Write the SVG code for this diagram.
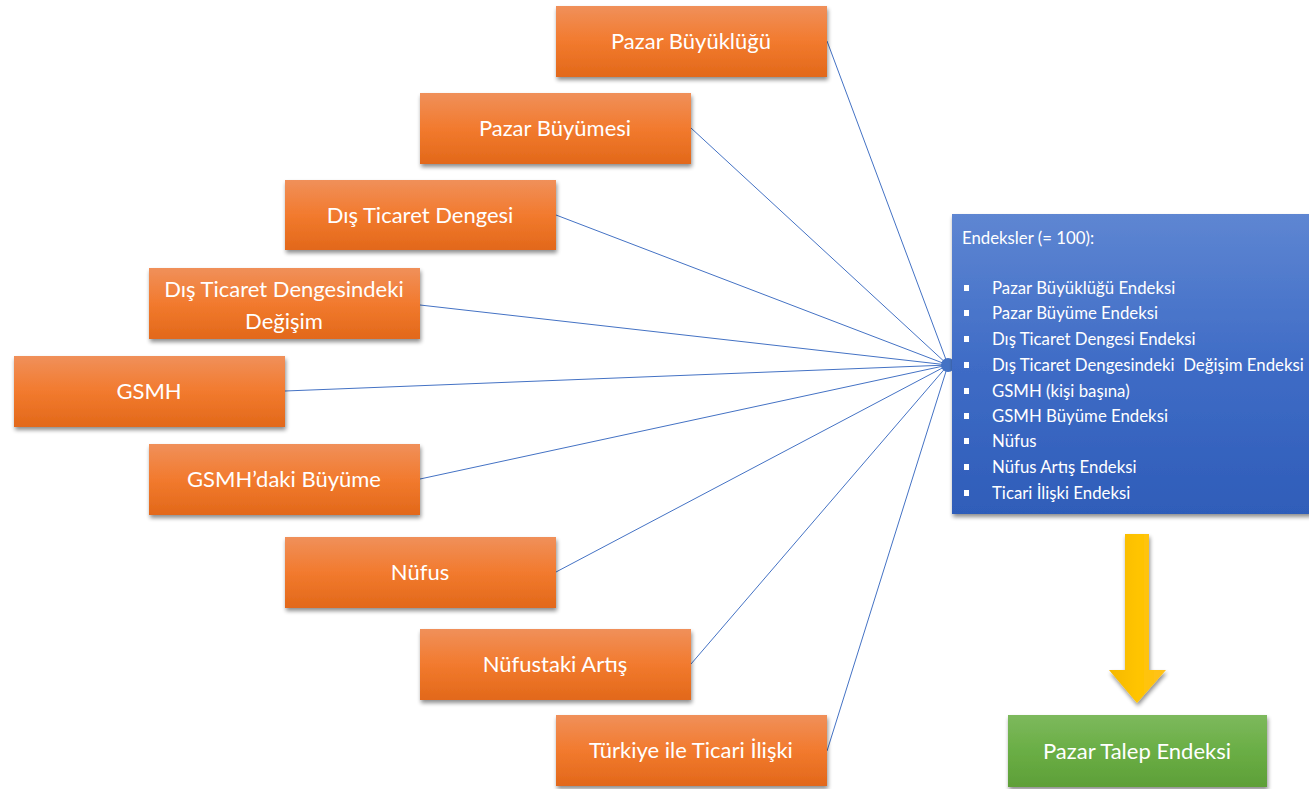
<svg xmlns="http://www.w3.org/2000/svg" width="1309" height="789" viewBox="0 0 1309 789">
<defs>
<linearGradient id="gOr" x1="0" y1="0" x2="0" y2="1"><stop offset="0" stop-color="#F0905A"/><stop offset="0.5" stop-color="#F27A2E"/><stop offset="1" stop-color="#E2681A"/></linearGradient>
<linearGradient id="gBl" x1="0" y1="0" x2="0" y2="1"><stop offset="0" stop-color="#5E86D2"/><stop offset="0.5" stop-color="#3F6CC6"/><stop offset="1" stop-color="#2F5DB9"/></linearGradient>
<linearGradient id="gGr" x1="0" y1="0" x2="0" y2="1"><stop offset="0" stop-color="#7DB95D"/><stop offset="0.5" stop-color="#6AAE45"/><stop offset="1" stop-color="#5E9F38"/></linearGradient>
<linearGradient id="gYe" x1="0" y1="0" x2="1" y2="0"><stop offset="0" stop-color="#F5B800"/><stop offset="0.5" stop-color="#FFC400"/><stop offset="1" stop-color="#FFC21E"/></linearGradient>
<filter id="sh" x="-10%" y="-10%" width="120%" height="130%"><feGaussianBlur in="SourceAlpha" stdDeviation="2"/><feOffset dx="1" dy="3"/><feComponentTransfer><feFuncA type="linear" slope="0.45"/></feComponentTransfer><feMerge><feMergeNode/><feMergeNode in="SourceGraphic"/></feMerge></filter>
</defs>
<style>
.or{fill:url(#gOr);filter:url(#sh)}
.t{font-family:Lato,"Open Sans",sans-serif;font-size:22px;fill:#fff;text-anchor:middle}
.b{font-family:Lato,"Open Sans",sans-serif;font-size:16.8px;fill:#fff}
.c line{stroke:#4472C4;stroke-width:1}
</style>
<rect width="1309" height="789" fill="#fff"/>
<g class="c" id="connectors">
<line x1="827" y1="41" x2="948" y2="365"/>
<line x1="691" y1="128" x2="948" y2="365"/>
<line x1="556" y1="215" x2="948" y2="365"/>
<line x1="420" y1="305" x2="948" y2="365"/>
<line x1="285" y1="391" x2="948" y2="365"/>
<line x1="420" y1="479" x2="948" y2="365"/>
<line x1="556" y1="572" x2="948" y2="365"/>
<line x1="691" y1="664" x2="948" y2="365"/>
<line x1="827" y1="751" x2="948" y2="365"/>
<circle cx="948" cy="365" r="7" fill="#4472C4"/>
</g>
<g id="n1"><rect class="or" x="556" y="6" width="271" height="71"/><text class="t" x="691" y="49">Pazar Büyüklüğü</text></g>
<g id="n2"><rect class="or" x="420" y="93" width="271" height="71"/><text class="t" x="555" y="136">Pazar Büyümesi</text></g>
<g id="n3"><rect class="or" x="285" y="180" width="271" height="70"/><text class="t" x="420" y="223">Dış Ticaret Dengesi</text></g>
<g id="n4"><rect class="or" x="149" y="268" width="271" height="71"/><text class="t" x="284" y="297">Dış Ticaret Dengesindeki</text><text class="t" x="284" y="329">Değişim</text></g>
<g id="n5"><rect class="or" x="14" y="356" width="271" height="71"/><text class="t" x="149" y="399">GSMH</text></g>
<g id="n6"><rect class="or" x="149" y="444" width="271" height="71"/><text class="t" x="284" y="487">GSMH’daki Büyüme</text></g>
<g id="n7"><rect class="or" x="285" y="537" width="271" height="71"/><text class="t" x="420" y="580">Nüfus</text></g>
<g id="n8"><rect class="or" x="420" y="629" width="271" height="71"/><text class="t" x="555" y="672">Nüfustaki Artış</text></g>
<g id="n9"><rect class="or" x="556" y="715" width="271" height="71"/><text class="t" x="691" y="758">Türkiye ile Ticari İlişki</text></g>
<g id="blue">
<rect x="952" y="214" width="360" height="300" fill="url(#gBl)" filter="url(#sh)"/>
<text class="b" x="962" y="244">Endeksler (= 100):</text>
<g fill="#fff">
<rect x="964" y="285" width="5" height="6"/><rect x="964" y="310" width="5" height="6"/><rect x="964" y="336" width="5" height="6"/><rect x="964" y="362" width="5" height="6"/><rect x="964" y="388" width="5" height="6"/><rect x="964" y="413" width="5" height="6"/><rect x="964" y="438" width="5" height="6"/><rect x="964" y="464" width="5" height="6"/><rect x="964" y="490" width="5" height="6"/>
</g>
<text class="b" x="992" y="294">Pazar Büyüklüğü Endeksi</text>
<text class="b" x="992" y="319">Pazar Büyüme Endeksi</text>
<text class="b" x="992" y="345">Dış Ticaret Dengesi Endeksi</text>
<text class="b" x="992" y="371">Dış Ticaret Dengesindeki&#160; Değişim Endeksi</text>
<text class="b" x="992" y="397">GSMH (kişi başına)</text>
<text class="b" x="992" y="422">GSMH Büyüme Endeksi</text>
<text class="b" x="992" y="447">Nüfus</text>
<text class="b" x="992" y="473">Nüfus Artış Endeksi</text>
<text class="b" x="992" y="499">Ticari İlişki Endeksi</text>
</g>
<g id="arrow"><path d="M1125 534 H1149 V670 H1166 L1137 703 L1109 670 H1125 Z" fill="url(#gYe)" filter="url(#sh)"/></g>
<g id="green"><rect x="1008" y="715" width="259" height="72" fill="url(#gGr)" filter="url(#sh)"/><text class="t" x="1137" y="759">Pazar Talep Endeksi</text></g>
</svg>
